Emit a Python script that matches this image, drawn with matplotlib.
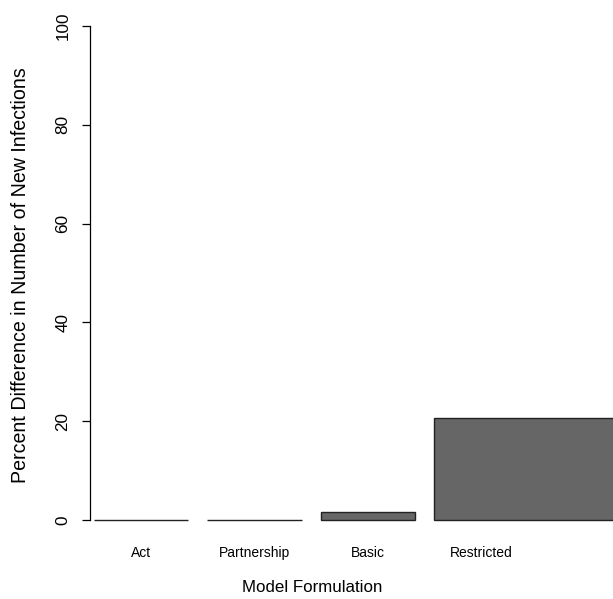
import matplotlib
matplotlib.use("Agg")
import matplotlib.pyplot as plt
import numpy as np

plt.rcParams['font.family'] = ['Liberation Sans', 'DejaVu Sans']

# data
models = ["Act", "Partnership", "Basic", "Restricted"]
pct_diff = [0.0, 0.0, 1.6, 20.6]
yticks = [0, 20, 40, 60, 80, 100]

# R barplot layout: width 1, space 0.2; last bar runs past the plot region
bar_left = 0.2 + 1.2 * np.arange(len(models))
bar_width = [1, 1, 1, 2]

W, H = 613, 599
fig = plt.figure(figsize=(W / 100, H / 100), dpi=100)
ax = fig.add_axes([90 / W, (H - 520) / H, 444 / W, 494 / H])

ax.bar(bar_left, pct_diff, width=bar_width, align='edge',
       color='#666666', edgecolor='#222222', linewidth=1.0, clip_on=False)

ax.set_xlim(0.158, 0.158 + 444 / 94.5)
ax.set_ylim(0, 100)

for s in ['top', 'right', 'bottom']:
    ax.spines[s].set_visible(False)
ax.spines['left'].set_linewidth(0.9)

ax.set_yticks(yticks)
ax.set_yticklabels([str(v) for v in yticks], rotation=90, va='center')
ax.tick_params(axis='y', length=6, width=0.9, pad=8, labelsize=12.3)

ax.set_xticks(bar_left + 0.5)
ax.set_xticklabels(models)
ax.tick_params(axis='x', length=0, pad=19, labelsize=10)

ax.set_xlabel("Model Formulation", fontsize=12.2)
ax.xaxis.set_label_coords(0.5, -(587 - 520) / 494)
ax.xaxis.label.set_va('center')

fig.text(21 / W, 1 - 275 / H, "Percent Difference in Number of New Infections",
         rotation=90, ha='center', va='center', fontsize=14.1)

fig.savefig("out.png", dpi=100)
